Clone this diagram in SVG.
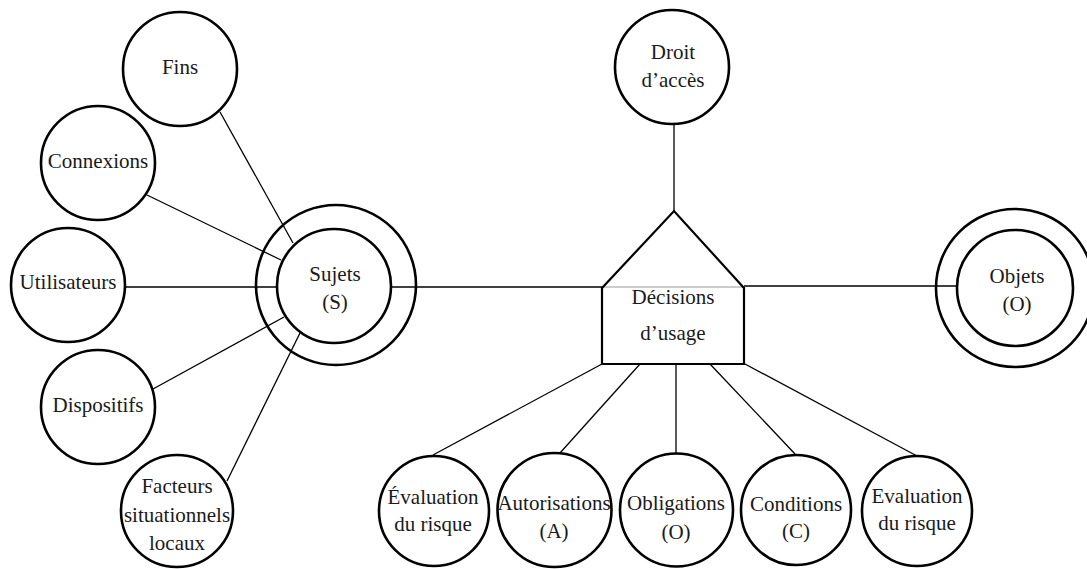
<svg xmlns="http://www.w3.org/2000/svg" width="1087" height="569" viewBox="0 0 1087 569">
  <style>
    .node { fill: #fff; stroke: #000; stroke-width: 2.6; }
    .ring { fill: none; stroke: #000; stroke-width: 2.6; }
    .edge { fill: none; stroke: #000; stroke-width: 1.3; }
    .box { fill: none; stroke: #000; stroke-width: 2.2; stroke-linejoin: miter; }
    .seam { stroke: #999; stroke-width: 1; }
    .label { font-size: 21px; fill: #1a1a1a; text-anchor: middle; }
  </style>
  <rect width="1087" height="569" fill="#fff"/>

  <!-- connectors -->
  <g id="connectors">
    <line class="edge" x1="220" y1="112" x2="293" y2="243"/>
    <line class="edge" x1="147" y1="195" x2="281" y2="260"/>
    <line class="edge" x1="125" y1="287" x2="277" y2="287"/>
    <line class="edge" x1="153" y1="389" x2="284" y2="317"/>
    <line class="edge" x1="227" y1="481" x2="300" y2="333"/>
    <line class="edge" x1="391" y1="287" x2="602" y2="287"/>
    <line class="edge" x1="744" y1="286" x2="957" y2="286"/>
    <line class="edge" x1="674" y1="124" x2="674" y2="211"/>
    <line class="edge" x1="602" y1="364" x2="433" y2="455"/>
    <line class="edge" x1="640" y1="364" x2="560" y2="453"/>
    <line class="edge" x1="676" y1="364" x2="676" y2="453"/>
    <line class="edge" x1="710" y1="364" x2="795" y2="454"/>
    <line class="edge" x1="745" y1="364" x2="917" y2="456"/>
  </g>

  <g font-family="'Liberation Serif', 'DejaVu Serif', serif" class="label">
    <!-- subject side -->
    <g id="fins">
      <circle class="node" cx="180" cy="69" r="57"/>
      <text x="180" y="74">Fins</text>
    </g>
    <g id="connexions">
      <circle class="node" cx="98" cy="163" r="57"/>
      <text x="98" y="168">Connexions</text>
    </g>
    <g id="utilisateurs">
      <circle class="node" cx="68" cy="285" r="57"/>
      <text x="68" y="289">Utilisateurs</text>
    </g>
    <g id="dispositifs">
      <circle class="node" cx="98" cy="407" r="57"/>
      <text x="98" y="412">Dispositifs</text>
    </g>
    <g id="facteurs">
      <circle class="node" cx="177" cy="511" r="56"/>
      <text x="177" y="493">Facteurs</text>
      <text x="177" y="522">situationnels</text>
      <text x="177" y="550">locaux</text>
    </g>
    <g id="sujets">
      <circle class="ring" cx="336" cy="285" r="80"/>
      <circle class="node" cx="334" cy="286" r="57"/>
      <text x="335" y="281">Sujets</text>
      <text x="335" y="309">(S)</text>
    </g>

    <!-- decision block -->
    <g id="droit-acces">
      <circle class="node" cx="672" cy="67" r="57"/>
      <text x="673" y="59">Droit</text>
      <text x="673" y="87">d’accès</text>
    </g>
    <g id="decisions">
      <line class="seam" x1="602" y1="287" x2="744" y2="287"/>
      <polyline class="box" points="602,288 674,211 744,288"/>
      <polyline class="box" points="602,287 602,364 744,364 744,287"/>
      <text x="673" y="304">Décisions</text>
      <text x="673" y="340">d’usage</text>
    </g>
    <g id="objets">
      <circle class="ring" cx="1015" cy="288" r="79"/>
      <circle class="node" cx="1015" cy="288" r="58"/>
      <text x="1017" y="283">Objets</text>
      <text x="1017" y="311">(O)</text>
    </g>

    <!-- decision components -->
    <g id="evaluation-1">
      <circle class="node" cx="434" cy="511" r="55"/>
      <text x="433" y="504">Évaluation</text>
      <text x="433" y="531">du risque</text>
    </g>
    <g id="autorisations">
      <circle class="node" cx="554.5" cy="510" r="57"/>
      <text x="554" y="510">Autorisations</text>
      <text x="554" y="538">(A)</text>
    </g>
    <g id="obligations">
      <circle class="node" cx="676.5" cy="510" r="56.5"/>
      <text x="676" y="510">Obligations</text>
      <text x="676" y="539">(O)</text>
    </g>
    <g id="conditions">
      <circle class="node" cx="796" cy="510" r="55"/>
      <text x="796" y="511">Conditions</text>
      <text x="796" y="538">(C)</text>
    </g>
    <g id="evaluation-2">
      <circle class="node" cx="917" cy="511" r="55"/>
      <text x="917" y="503">Evaluation</text>
      <text x="917" y="530">du risque</text>
    </g>
  </g>
</svg>
